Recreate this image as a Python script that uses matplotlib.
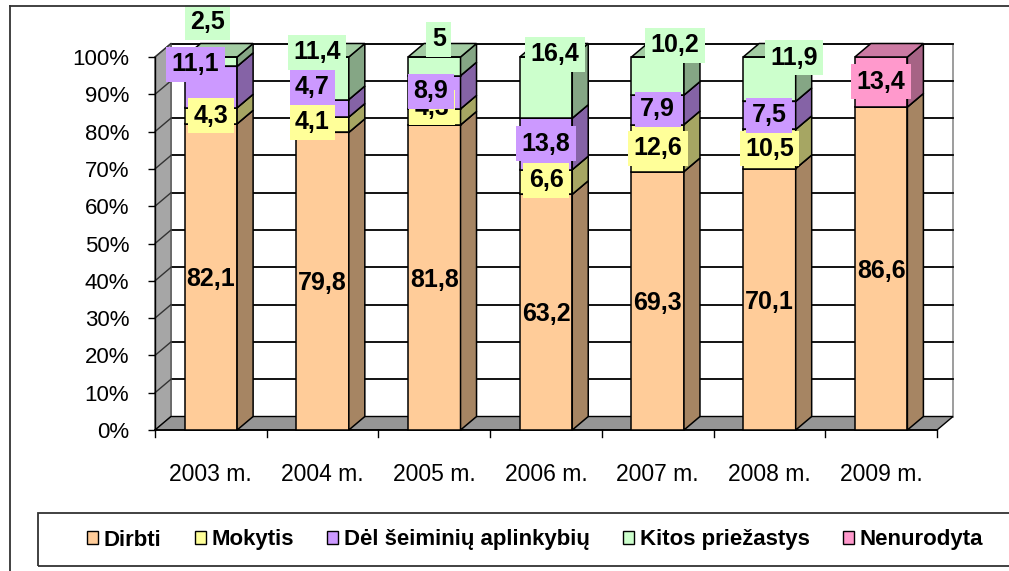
import numpy as np
import matplotlib
matplotlib.use('Agg')
import matplotlib.pyplot as plt
from matplotlib.patches import Polygon, Rectangle, Patch
from matplotlib.lines import Line2D

plt.rcParams['font.family'] = ['Liberation Sans', 'DejaVu Sans']

# ------------------------------------------------------------
# data (percent shares per year)
# ------------------------------------------------------------
years = ['2003 m.', '2004 m.', '2005 m.', '2006 m.', '2007 m.', '2008 m.', '2009 m.']
series_names = ['Dirbti', 'Mokytis', 'Dėl šeiminių aplinkybių', 'Kitos priežastys', 'Nenurodyta']
dirbti = [82.1, 79.8, 81.8, 63.2, 69.3, 70.1, 86.6]
mokytis = [4.3, 4.1, 4.3, 6.6, 12.6, 10.5, 0]
seimos = [11.1, 4.7, 8.9, 13.8, 7.9, 7.5, 0]
kitos = [2.5, 11.4, 5, 16.4, 10.2, 11.9, 0]
nenurodyta = [0, 0, 0, 0, 0, 0, 13.4]
series = [dirbti, mokytis, seimos, kitos, nenurodyta]

colors = ['#FFCC99', '#FFFF99', '#CC99FF', '#CCFFCC', '#FF99CC']

# label nudges (category units, percent) where Excel moved labels off the segment centre
label_dx = [
    [0, 0, 0, 0, 0, 0, 0],
    [0, -0.09, -0.02, 0, 0, 0, 0],
    [-0.14, -0.09, -0.03, 0, 0, 0, 0],
    [-0.03, -0.05, 0.04, 0.08, 0.155, 0.22, 0],
    [0, 0, 0, 0, 0, 0, 0],
]
label_dy = [
    [-0.6] * 7,
    [0, 0.7, 2.4, 0.5, 0, 0, 0],
    [6.1, 5.7, 0.3, 0, 0.2, 0.1, 0],
    [10.6, 7.0, 7.3, 9.0, 8.3, 5.7, 0],
    [0, 0, 0, 0, 0, 0, 0],
]

# ------------------------------------------------------------
# figure / axes
# ------------------------------------------------------------
W, H = 1009, 571
fig = plt.figure(figsize=(W / 100, H / 100), dpi=100)
x0px, x1px, y0px, y1px = 155, 937, 430, 57
ax = fig.add_axes([x0px / W, 1 - y0px / H, (x1px - x0px) / W, (y0px - y1px) / H])
ax.set_xlim(-0.5, 6.5)
ax.set_ylim(0, 100)
for s in ax.spines.values():
    s.set_visible(False)
ax.patch.set_visible(False)

n = len(years)
xs = np.arange(n)
px_x = (x1px - x0px) / n          # pixels per category
px_y = (y0px - y1px) / 100.0      # pixels per percent
DX = 16 / px_x                    # 3-D depth, data units
DY = 13.5 / px_y
bw = 0.47


def shade(c, f):
    r, g, b = matplotlib.colors.to_rgb(c)
    return (r * f, g * f, b * f)


# walls and floor
xl, xr = -0.5, n - 0.5
ax.add_patch(Polygon([(xl + DX, DY), (xr + DX, DY), (xr + DX, 100 + DY), (xl + DX, 100 + DY)],
                     closed=True, facecolor='white', edgecolor='#8c8c8c', lw=1.2,
                     clip_on=False, zorder=0))
ax.add_patch(Polygon([(xl, 0), (xl + DX, DY), (xl + DX, 100 + DY), (xl, 100)],
                     closed=True, facecolor='#a6a6a6', edgecolor='#555555', lw=1.0,
                     clip_on=False, zorder=0.5))
ax.add_patch(Polygon([(xl, 0), (xr, 0), (xr + DX, DY), (xl + DX, DY)],
                     closed=True, facecolor='#969696', edgecolor='black', lw=1.0,
                     clip_on=False, zorder=0.5))
for v in range(10, 101, 10):
    ax.plot([xl + DX, xr + DX], [v + DY, v + DY], color='black', lw=1.3,
            clip_on=False, zorder=0.3)
    ax.plot([xl, xl + DX], [v, v + DY], color='#333333', lw=1.0,
            clip_on=False, zorder=0.6)
ax.plot([xl, xl], [0, 100], color='black', lw=1.0, clip_on=False, zorder=0.7)
ax.plot([xl, xr], [0, 0], color='black', lw=1.2, clip_on=False, zorder=0.7)

# stacked 3-D columns
bottom = np.zeros(n)
for k, vals in enumerate(series):
    vals = np.array(vals, dtype=float)
    ax.bar(xs, vals, bw, bottom=bottom, color=colors[k], edgecolor='black',
           lw=1.1, zorder=2 + k, clip_on=False)
    for i in range(n):
        if vals[i] <= 0:
            continue
        a, b = xs[i] - bw / 2, xs[i] + bw / 2
        lo, hi = bottom[i], bottom[i] + vals[i]
        ax.add_patch(Polygon([(b, lo), (b + DX, lo + DY), (b + DX, hi + DY), (b, hi)],
                             closed=True, facecolor=shade(colors[k], 0.65),
                             edgecolor='black', lw=1.1, zorder=2 + k, clip_on=False))
        ax.add_patch(Polygon([(a, hi), (b, hi), (b + DX, hi + DY), (a + DX, hi + DY)],
                             closed=True, facecolor=shade(colors[k], 0.8),
                             edgecolor='black', lw=1.1, zorder=2 + k, clip_on=False))
    bottom += vals

# data labels
bottom = np.zeros(n)
for k, vals in enumerate(series):
    for i in range(n):
        v = vals[i]
        if v > 0:
            txt = ('%g' % v).replace('.', ',')
            box = None if k == 0 else dict(boxstyle='square,pad=0.22', fc=colors[k], ec='none')
            ax.text(xs[i] + label_dx[k][i], bottom[i] + v / 2 + label_dy[k][i], txt,
                    ha='center', va='center', fontsize=18, fontweight='bold',
                    bbox=box, zorder=20 + k, clip_on=False)
        bottom[i] += v

# axes ticks
ax.set_yticks(range(0, 101, 10))
ax.set_yticklabels(['%d%%' % v for v in range(0, 101, 10)], fontsize=16)
ax.tick_params(axis='y', length=5, width=1.0, pad=13.5)
ax.set_xticks(xs)
ax.set_xticklabels(years, fontsize=16.5)
ax.tick_params(axis='x', length=0, pad=24)
for xb in np.arange(-0.5, n, 1.0):
    ax.plot([xb, xb], [0, -7 / px_y], color='black', lw=1.0, clip_on=False)

# outer chart border and legend box (figure pixel coords)
fig.add_artist(Line2D([10 / W, 10 / W], [0, 1 - 6 / H], color='#333333', lw=1.3))
fig.add_artist(Line2D([10 / W, 1], [1 - 6 / H, 1 - 6 / H], color='#333333', lw=1.3))
fig.add_artist(Rectangle((38 / W, 1 - 566 / H), (W + 20 - 38) / W, 53 / H,
                         transform=fig.transFigure, fill=False, ec='#333333', lw=1.3))

handles = [Patch(facecolor=c, edgecolor='black', lw=1.0) for c in colors]
leg = fig.legend(handles, series_names, loc='center', bbox_to_anchor=(535 / W, 1 - 540 / H),
                 ncol=5, frameon=False, handlelength=0.5, handleheight=0.5,
                 handletextpad=0.25, columnspacing=1.5,
                 prop={'size': 16, 'weight': 'bold'})

plt.savefig('out.png', dpi=100)
plt.close()
